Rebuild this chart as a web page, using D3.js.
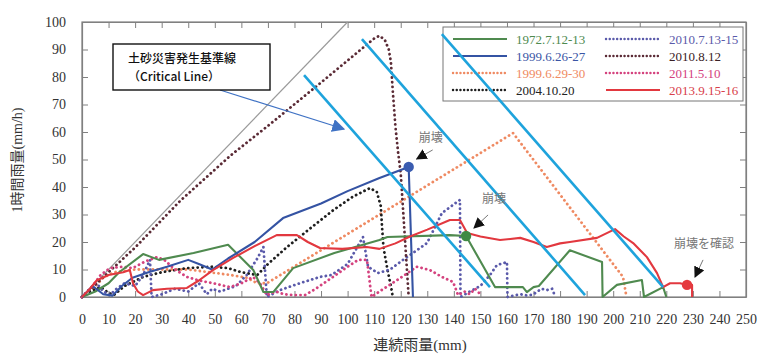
<!DOCTYPE html>
<html>
<head>
<meta charset="utf-8">
<script src="https://cdn.jsdelivr.net/npm/d3@7/dist/d3.min.js"></script>
<style>
  html, body { margin: 0; padding: 0; background: #fff; }
  svg { display: block; }
</style>
</head>
<body>
<svg id="chart" width="758" height="356"></svg>
<script>
// ---- data: continuous rainfall (mm) vs hourly rainfall (mm/h) ----
const xTicks = d3.range(0, 251, 10);
const yTicks = d3.range(0, 101, 10);

const eventNames = ["1972.7.12-13", "1999.6.26-27", "1999.6.29-30", "2004.10.20",
                    "2010.7.13-15", "2010.8.12", "2011.5.10", "2013.9.15-16"];

const ev1972 = [[0,0],[5,2],[10,5],[14,9],[23,15.6],[29,13.5],[42,16],[55,19],[64.5,9.8],[68.3,1.8],[72,1.8],[79.5,10.5],[95,16],[112,20.7],[115,21.8],[138.5,22.5],[144.6,22.2],[155.5,3.6],[166,3.6],[167.5,1.8],[170,3.6],[172,4],[183.7,17],[195.8,12.7],[196,0],[201.4,4.4],[210.8,6.2],[211.6,0],[218.8,3.6],[220,0]];
const ev1999a = [[0,0],[4,4],[8,1],[11.5,0.5],[15,4],[19,7],[25,9],[32,11],[40,13.5],[44,12],[49,10],[55,14],[65,20],[75.7,28.7],[90,34],[100,38.5],[112,43.3],[123,47.3],[124.6,0]];
const ev1999b = [[0,0],[4,3],[8,7],[12,9],[20,10],[30,10],[40,10],[48,9],[56,8],[62,7],[66,5],[69.6,5],[162.3,59.6],[203.7,7.3],[205,0]];
const ev2004 = [[0,0],[3,2],[7,3.6],[10,1.5],[12,0.7],[16,4],[23,7.3],[30,9],[39.5,10.5],[49,11],[55,10.5],[60,9],[66,8],[70,12],[77,18],[86,25],[94.5,31.5],[102,36.5],[108.4,39.6],[111,38.2],[112.5,33],[113,25],[113.5,18],[115,10],[116.5,3],[117,0]];
const ev2010a = [[0,0],[3,3],[5.5,5],[8,2],[10.5,0.7],[13,3],[16,5],[20,4],[23,8],[25.6,13.5],[26.2,0],[30,1],[35,3],[40,2],[44,5],[47,1],[49,3],[52,2],[58,4],[62,8],[66,14],[68.3,18.2],[69.6,0],[74.5,2.5],[82,5],[89.6,7.3],[94,8],[100,12],[105.8,21.8],[107.7,11],[111.4,8.7],[116,10],[120.9,13.5],[129.9,19.6],[135.5,30.5],[139.7,33.5],[142.3,35.3],[142.5,0],[146,2],[150,4],[153.6,8],[156.2,11.6],[160,12.7],[160.2,0],[165,1],[168,0.5],[170,1],[173,3],[175,2.5],[177,3],[178,0.5]];
const ev2010b = [[0,0],[10,9],[20,18],[37,35],[56,51.5],[71,63],[90,78],[105,90],[110,94],[112,95],[114,93.5],[115.5,90],[116.3,85.5],[117,75],[118,62],[119,52.7],[120,45],[121,30],[122,15],[123,0]];
const ev2011 = [[0,0],[4,4],[7,8],[10.5,10.5],[15,11],[19,10.5],[24,13],[28.2,14.5],[31,13.5],[35,10],[39.5,7.3],[44,6],[49.3,5],[55.7,3.6],[60,5],[64.4,7.3],[67,5],[69.6,0.7],[73,2],[76,1],[79.5,0.7],[84,0.7],[88,3],[94.5,7.3],[100,11],[104,13.5],[107.3,13.5],[109,0],[112,2],[116,4.5],[120,7],[126,11],[131,9.8],[135.5,7.3],[139.7,5.5],[141.6,0.7],[144,2],[146,1],[148,3],[150,1]];
const ev2013 = [[0,0],[3,3],[5.5,6],[10,8],[15.5,9],[18,9.8],[19.2,5],[21,2],[23,0.7],[26.7,2.5],[32,3],[39.5,3.3],[44,6],[49.3,9.8],[56.9,14.2],[65,18.5],[73.3,22.5],[80.9,22.5],[85,20],[89.6,17.8],[98,17.5],[107.2,18.2],[112,17.5],[118,19.5],[123.5,22],[130,24.5],[138.5,28],[142.3,28],[145,23.3],[150,22],[157.4,20.7],[165,21.5],[170,20],[175,18.2],[180,19.5],[183.7,20],[193.9,21.5],[200.7,24.7],[204,22],[207.5,19.6],[212.7,14.5],[216.5,8.7],[218.8,3.6],[221.4,5],[225.2,5],[227.8,4.4],[229.7,4.4],[229.7,0]];

// 1:1 reference line and the three critical lines
const refLine = [[0,0],[100,100]];
const critLines = [
  [[83.6,80.7],[153.6,3.6]],
  [[105.4,93.8],[189.4,0.7]],
  [[135.5,95.6],[218.8,3.6]]
];

// slope-failure points
const failures = [
  {x: 123,   y: 47.3, color: "#3a5cb0", label: "崩壊"},
  {x: 144.6, y: 22.2, color: "#3f8a45", label: "崩壊"},
  {x: 227.8, y: 4.4,  color: "#e53a3f", label: "崩壊を確認"}
];

const calloutLines = ["土砂災害発生基準線", "（Critical Line）"];

// ---- styling per event ----
const series = [
  {name: eventNames[0], data: ev1972,  color: "#4f8a4f", dotted: false},
  {name: eventNames[1], data: ev1999a, color: "#3453a3", dotted: false},
  {name: eventNames[2], data: ev1999b, color: "#ef8a62", dotted: true},
  {name: eventNames[3], data: ev2004,  color: "#1e1e1e", dotted: true},
  {name: eventNames[4], data: ev2010a, color: "#5a5aaa", dotted: true},
  {name: eventNames[5], data: ev2010b, color: "#5a2a35", dotted: true},
  {name: eventNames[6], data: ev2011,  color: "#d4427e", dotted: true},
  {name: eventNames[7], data: ev2013,  color: "#e2383f", dotted: false}
];
const legendTextColor = ["#4f8a4f","#3a55a5","#ef8a62","#222","#5a5aaa","#3a2025","#d4427e","#d8404a"];

const svg = d3.select("#chart");
const plotL = 82, plotR = 746, plotT = 22, plotB = 297;
const x = d3.scaleLinear().domain([0, 250]).range([plotL, plotR]);
const y = d3.scaleLinear().domain([0, 100]).range([plotB, plotT]);

const serif = "'Liberation Serif', 'Times New Roman', 'Noto Sans CJK JP', serif";
const axisGray = "#808080";

const defs = svg.append("defs");
function arrowMarker(id, color, size) {
  defs.append("marker")
    .attr("id", id).attr("viewBox", "0 0 10 10")
    .attr("refX", 9).attr("refY", 5)
    .attr("markerWidth", size).attr("markerHeight", size)
    .attr("markerUnits", "userSpaceOnUse")
    .attr("orient", "auto")
    .append("path").attr("d", "M0,0 L10,5 L0,10 Z").attr("fill", color);
}
arrowMarker("arrBlack", "#111", 11);
arrowMarker("arrBlue", "#3f72c4", 13);

// ---- frame & axes ----
const tickLen = 6;
svg.append("rect").attr("x", plotL).attr("y", plotT)
  .attr("width", plotR - plotL).attr("height", plotB - plotT)
  .attr("fill", "none").attr("stroke", axisGray).attr("stroke-width", 1.2);

const xAxisB = d3.axisBottom(x).tickValues(xTicks).tickSizeInner(-tickLen).tickSizeOuter(0).tickPadding(17);
const gxb = svg.append("g").attr("transform", `translate(0,${plotB})`).call(xAxisB);
const xAxisT = d3.axisTop(x).tickValues(xTicks).tickSizeInner(-tickLen).tickSizeOuter(0).tickFormat("");
const gxt = svg.append("g").attr("transform", `translate(0,${plotT})`).call(xAxisT);
const yAxisL = d3.axisLeft(y).tickValues(yTicks).tickSizeInner(-tickLen).tickSizeOuter(0).tickPadding(16);
const gyl = svg.append("g").attr("transform", `translate(${plotL},0)`).call(yAxisL);
const yAxisR = d3.axisRight(y).tickValues(yTicks).tickSizeInner(-tickLen).tickSizeOuter(0).tickFormat("");
const gyr = svg.append("g").attr("transform", `translate(${plotR},0)`).call(yAxisR);
[gxb, gxt, gyl, gyr].forEach(g => {
  g.attr("font-family", null);
  g.select(".domain").attr("stroke", axisGray).attr("stroke-width", 1.2);
  g.selectAll(".tick line").attr("stroke", axisGray);
  g.selectAll(".tick text").attr("fill", "#333").style("font-family", serif).style("font-size", "14px");
});

svg.append("text").attr("x", 420).attr("y", 350).attr("text-anchor", "middle")
  .style("font-family", serif).style("font-size", "15px").attr("fill", "#333")
  .text("連続雨量(mm)");
svg.append("text").attr("transform", "translate(22,160) rotate(-90)").attr("text-anchor", "middle")
  .style("font-family", serif).style("font-size", "14px").attr("fill", "#333")
  .text("1時間雨量(mm/h)");

// ---- lines ----
const line = d3.line().x(d => x(d[0])).y(d => y(d[1]));
const plot = svg.append("g");

plot.append("path").attr("d", line(refLine)).attr("fill", "none")
  .attr("stroke", "#9a9a9a").attr("stroke-width", 1.2);

function styleSeries(sel, s) {
  sel.attr("fill", "none").attr("stroke", s.color)
    .attr("stroke-linejoin", "round");
  if (s.dotted) {
    sel.attr("stroke-width", 2.8).attr("stroke-dasharray", "0.1 4.6").attr("stroke-linecap", "round");
  } else {
    sel.attr("stroke-width", 2.1);
  }
  return sel;
}
series.filter(s => s.dotted).forEach(s => styleSeries(plot.append("path").attr("d", line(s.data)), s));
series.filter(s => !s.dotted).forEach(s => styleSeries(plot.append("path").attr("d", line(s.data)), s));

// ---- legend ----
const lg = svg.append("g");
const lgX = 443, lgY = 27, lgW = 300, lgH = 74;
lg.append("rect").attr("x", lgX).attr("y", lgY).attr("width", lgW).attr("height", lgH)
  .attr("fill", "#fff").attr("stroke", "#777").attr("stroke-width", 1);
series.forEach((s, i) => {
  const col = Math.floor(i / 4), row = i % 4;
  const sx = lgX + 10 + col * 153, sy = lgY + 12 + row * 17;
  const seg = lg.append("line").attr("x1", sx).attr("x2", sx + 54).attr("y1", sy).attr("y2", sy);
  styleSeries(seg, s);
  if (s.dotted) seg.attr("stroke-dasharray", "0.1 3.6").attr("stroke-width", 2.4);
  lg.append("text").attr("x", sx + 63).attr("y", sy).attr("dy", "0.35em")
    .style("font-family", serif).style("font-size", "13px").attr("fill", legendTextColor[i])
    .text(s.name);
});

// ---- critical lines ----
critLines.forEach(c => {
  svg.append("path").attr("d", line(c)).attr("fill", "none")
    .attr("stroke", "#1ea3dc").attr("stroke-width", 2.6);
});

// ---- failure points & notes ----
const notes = [
  {tx: 22, ty: -25, ax1: 24, ay1: -17, ax2: 8, ay2: -8},
  {tx: 28, ty: -33, ax1: 22, ay1: -21, ax2: 8, ay2: -8},
  {tx: 17, ty: -37, ax1: 16, ay1: -25, ax2: 8, ay2: -8}
];
failures.forEach((f, i) => {
  const px = x(f.x), py = y(f.y), n = notes[i];
  svg.append("circle").attr("cx", px).attr("cy", py).attr("r", 5.2).attr("fill", f.color);
  svg.append("line").attr("x1", px + n.ax1).attr("y1", py + n.ay1)
    .attr("x2", px + n.ax2).attr("y2", py + n.ay2)
    .attr("stroke", "#777").attr("stroke-width", 1).attr("marker-end", "url(#arrBlack)");
  svg.append("text").attr("x", px + n.tx).attr("y", py + n.ty).attr("text-anchor", "middle")
    .style("font-family", serif).style("font-size", "12px").attr("fill", "#777")
    .text(f.label);
});

// ---- callout box ----
const cb = svg.append("g");
cb.append("line").attr("x1", 220).attr("y1", 90).attr("x2", 344).attr("y2", 129)
  .attr("stroke", "#3f72c4").attr("stroke-width", 1.2).attr("marker-end", "url(#arrBlue)");
cb.append("rect").attr("x", 113).attr("y", 44).attr("width", 157).attr("height", 46)
  .attr("fill", "#fff").attr("stroke", "#111").attr("stroke-width", 1.4);
const ct = cb.append("text").attr("x", 128).attr("y", 63)
  .style("font-family", "'Noto Sans CJK JP', 'Noto Sans', sans-serif")
  .style("font-size", "12px").style("font-weight", 500).attr("fill", "#111");
calloutLines.forEach((t, i) => {
  ct.append("tspan").attr("x", 128).attr("dy", i === 0 ? 0 : 18).text(t);
});
</script>
</body>
</html>
